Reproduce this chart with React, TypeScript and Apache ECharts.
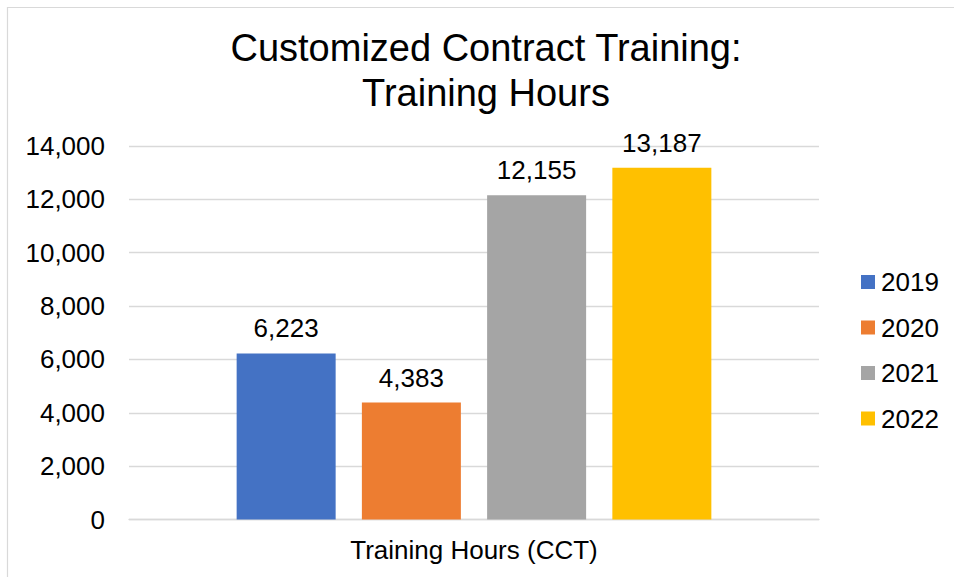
import React, { useEffect, useRef } from "react";
import * as echarts from "echarts";

const titleLines = ["Customized Contract Training:", "Training Hours"];
const categories = ["Training Hours (CCT)"];
const seriesNames = ["2019", "2020", "2021", "2022"];
const seriesValues = [[6223], [4383], [12155], [13187]];
const seriesColors = ["#4472c4", "#ed7d31", "#a5a5a5", "#ffc000"];
const yMin = 0;
const yMax = 14000;
const yInterval = 2000;

const FONT = "'Liberation Sans', Arial, sans-serif";
const fmt = (v: number) => Number(v).toLocaleString("en-US");

export default function App() {
  const ref = useRef<HTMLDivElement>(null);
  useEffect(() => {
    if (!ref.current) return;
    const chart = echarts.init(ref.current, undefined, { renderer: "svg" });
    chart.setOption({
      animation: false,
      backgroundColor: "#ffffff",
      textStyle: { fontFamily: FONT },
      graphic: [
        {
          type: "rect",
          shape: { x: 7.5, y: 7.5, width: 1200, height: 1200 },
          style: { fill: "none", stroke: "#d9d9d9", lineWidth: 1.2 },
          silent: true,
          z: 0,
        },
      ],
      title: {
        text: titleLines.join("\n"),
        left: 486,
        textAlign: "center",
        top: 26,
        padding: 0,
        textStyle: {
          fontFamily: FONT,
          fontSize: 38,
          fontWeight: "normal",
          color: "#000000",
          lineHeight: 44.5,
        },
      },
      legend: {
        orient: "vertical",
        left: 861,
        top: 269,
        padding: 0,
        itemWidth: 14,
        itemHeight: 14,
        itemGap: 19.5,
        icon: "rect",
        data: seriesNames,
        textStyle: {
          fontFamily: FONT,
          fontSize: 26,
          lineHeight: 26,
          color: "#000000",
          padding: [0, 0, 0, 1],
        },
      },
      grid: { left: 129, right: 135, top: 146, bottom: 57.5, containLabel: false },
      xAxis: {
        type: "category",
        data: categories,
        axisTick: { show: false },
        axisLine: { lineStyle: { color: "#d9d9d9", width: 1.3 } },
        axisLabel: {
          fontFamily: FONT,
          fontSize: 26,
          color: "#000000",
          margin: 17,
        },
      },
      yAxis: {
        type: "value",
        min: yMin,
        max: yMax,
        interval: yInterval,
        axisLine: { show: false },
        axisTick: { show: false },
        splitLine: { lineStyle: { color: "#d9d9d9", width: 1.3 } },
        axisLabel: {
          fontFamily: FONT,
          fontSize: 26,
          color: "#000000",
          margin: 24,
          formatter: (v: number) => fmt(v),
        },
      },
      series: seriesNames.map((name, i) => ({
        name,
        type: "bar",
        data: seriesValues[i],
        barWidth: 99,
        barGap: "26.5%",
        itemStyle: { color: seriesColors[i] },
        label: {
          show: true,
          position: "top",
          distance: 12,
          fontFamily: FONT,
          fontSize: 26,
          color: "#000000",
          formatter: (p: any) => fmt(p.value),
        },
      })),
    });
    return () => chart.dispose();
  }, []);
  return (
    <div
      ref={ref}
      style={{ position: "fixed", left: 0, top: 0, width: 954, height: 577 }}
    />
  );
}
